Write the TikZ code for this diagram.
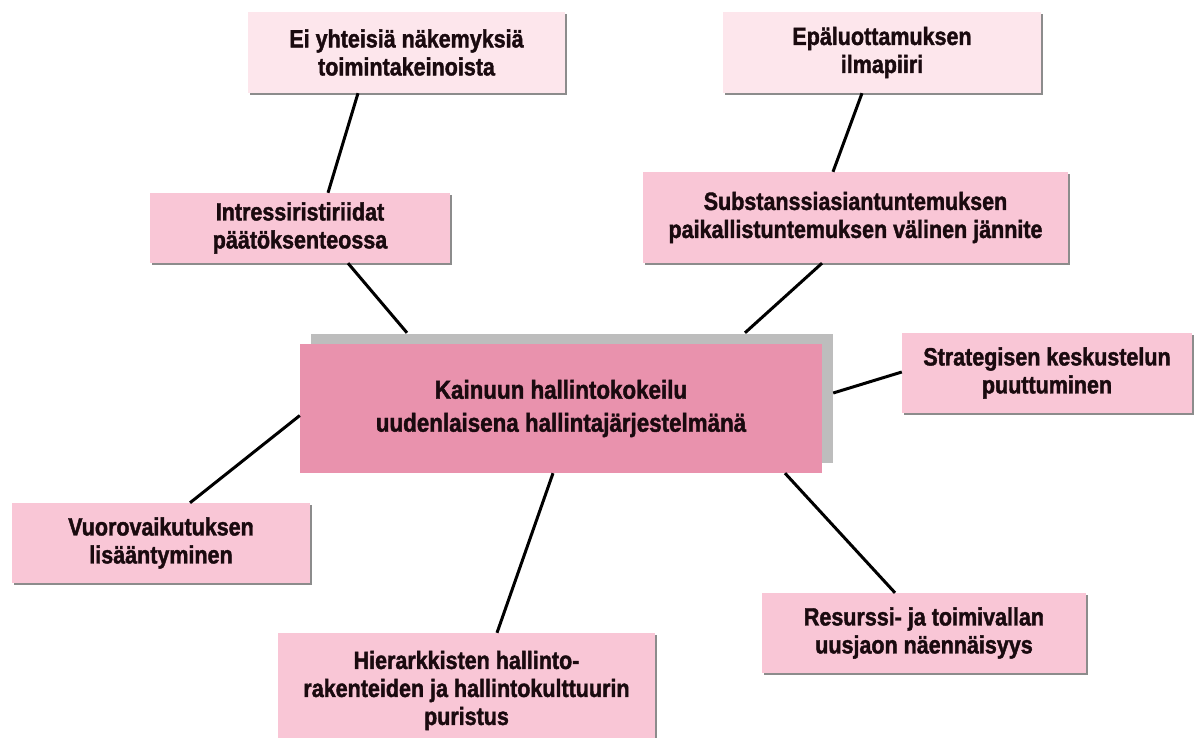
\documentclass[tikz,border=0pt]{standalone}
\usepackage{fontspec}
\setmainfont{Liberation Sans}[BoldFeatures={FakeStretch=0.86,FakeBold=1.6}]
\usetikzlibrary{shadows,calc}
\definecolor{palepink}{HTML}{FDE6EC}
\definecolor{boxpink}{HTML}{F9C6D6}
\definecolor{mainpink}{HTML}{E992AD}
\definecolor{mainshadow}{HTML}{BDBDBD}
\definecolor{smallshadow}{HTML}{8C8C8C}
\definecolor{txt}{HTML}{1A0A0F}
\tikzset{
  topic/.style={rectangle, fill=boxpink, inner sep=0pt, align=center,
    text=txt, font=\bfseries\fontsize{25}{28}\selectfont,
    general shadow={fill=smallshadow, shadow xshift=2pt, shadow yshift=-2pt}},
  paletopic/.style={topic, fill=palepink},
  maintopic/.style={rectangle, fill=mainpink, inner sep=0pt, align=center,
    text=txt, font=\bfseries\fontsize{26}{33}\selectfont,
    general shadow={fill=mainshadow, shadow xshift=11pt, shadow yshift=10pt}},
  link/.style={line width=3pt, black}
}
\begin{document}
\begin{tikzpicture}[x=1pt,y=-1pt]
\useasboundingbox (0,0) rectangle (1194,738);
\clip (0,0) rectangle (1194,738);
\fill[white] (0,0) rectangle (1194,738);

\node[paletopic, minimum width=317pt, minimum height=81pt] (b1) at (406.5,52.5)
  {Ei yhteisiä näkemyksiä\\toimintakeinoista};
\node[paletopic, minimum width=318pt, minimum height=81pt] (b2) at (882,52.5)
  {Epäluottamuksen\\ilmapiiri};
\node[topic, minimum width=300pt, minimum height=70pt] (b3) at (300,228)
  {Intressiristiriidat\\päätöksenteossa};
\node[topic, minimum width=425pt, minimum height=91pt] (b4) at (855.5,217.5)
  {Substanssiasiantuntemuksen\\paikallistuntemuksen välinen jännite};
\node[maintopic, minimum width=522pt, minimum height=129pt] (main) at (561,408.5)
  {Kainuun hallintokokeilu\\uudenlaisena hallintajärjestelmänä};
\node[topic, minimum width=290pt, minimum height=80pt] (b6) at (1047,373)
  {Strategisen keskustelun\\puuttuminen};
\node[topic, minimum width=298pt, minimum height=80pt] (b7) at (161,543)
  {Vuorovaikutuksen\\lisääntyminen};
\node[topic, minimum width=324pt, minimum height=80pt] (b8) at (924,633)
  {Resurssi- ja toimivallan\\uusjaon näennäisyys};
\node[topic, minimum width=377pt, minimum height=115pt] (b9) at (466.5,690.5)
  {Hierarkkisten hallinto-\\rakenteiden ja hallintokulttuurin\\puristus};

\draw[link] ($(b1.south)+(-48.5,0)$) -- ($(b3.north)+(28,0)$);
\draw[link] ($(b3.south)+(48,0)$) -- ($(main.north)+(-154,-11)$);
\draw[link] ($(b2.south)+(-20,0)$) -- ($(b4.north)+(-22.5,0)$);
\draw[link] ($(b4.south)+(-33.5,0)$) -- ($(main.north)+(184,-11)$);
\draw[link] ($(main.east)+(11,-15.5)$) -- ($(b6.west)+(0,-1)$);
\draw[link] ($(main.west)+(0,7)$) -- ($(b7.north)+(29,0)$);
\draw[link] ($(main.south)+(-8,0)$) -- ($(b9.north)+(30.5,0)$);
\draw[link] ($(main.south)+(224,0)$) -- ($(b8.north)+(-29,0)$);
\end{tikzpicture}
\end{document}
